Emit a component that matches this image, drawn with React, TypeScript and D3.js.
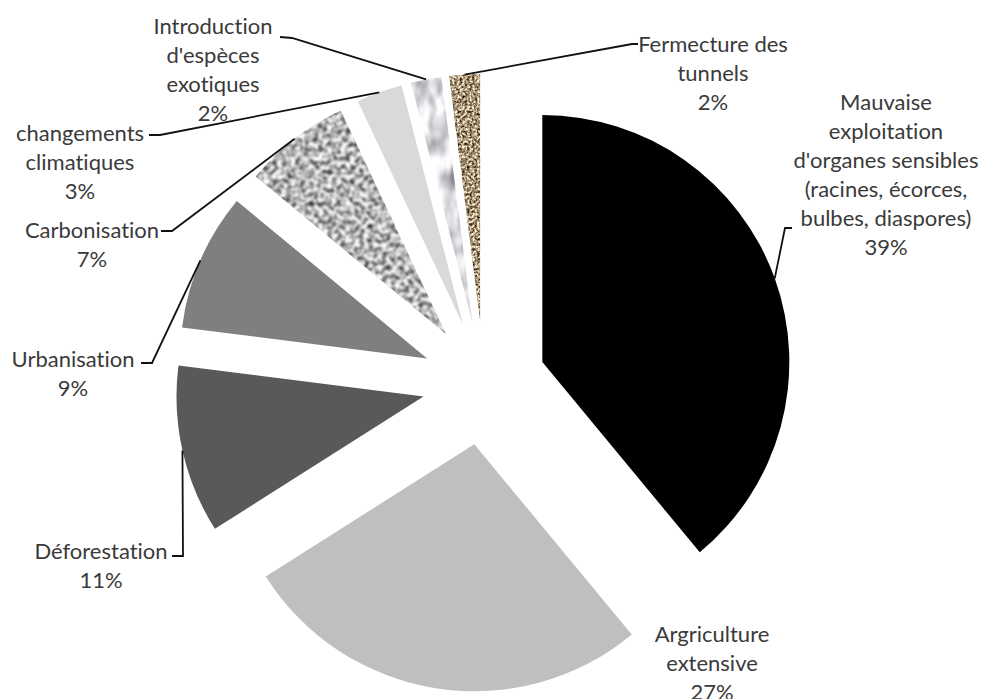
import React from "react";
import * as d3 from "d3";

// Threats to medicinal plant resources, share of citations (%)
const categoryLines: string[][] = [
  ["Mauvaise", "exploitation", "d'organes sensibles", "(racines, écorces,", "bulbes, diaspores)"],
  ["Argriculture", "extensive"],
  ["Déforestation"],
  ["Urbanisation"],
  ["Carbonisation"],
  ["changements", "climatiques"],
  ["Introduction", "d'espèces", "exotiques"],
  ["Fermecture des", "tunnels"],
];
const shares = [39, 27, 11, 9, 7, 3, 2, 2];

// Fill for each slice: plain colour or a textured filter
const sliceFills = ["#000000", "#bfbfbf", "#595959", "#7f7f7f", "url(#granite)", "#d9d9d9", "url(#marble)", "url(#sand)"];

// Label layout: text centre, first line centre, and the leader elbow / tick end
type LabelLayout = { x: number; y: number; elbow?: [number, number]; tick?: [number, number] };
const labelLayout: LabelLayout[] = [
  { x: 886, y: 101, elbow: [785, 228], tick: [792, 228] },
  { x: 712, y: 633 },
  { x: 101, y: 550, elbow: [183, 556], tick: [172, 556] },
  { x: 73, y: 358, elbow: [152, 363], tick: [141, 363] },
  { x: 92, y: 229, elbow: [172, 231], tick: [161, 231] },
  { x: 80, y: 132, elbow: [160, 135], tick: [149, 135] },
  { x: 213, y: 25, elbow: [292, 38], tick: [280, 37] },
  { x: 713, y: 43, elbow: [632, 44], tick: [638, 44] },
];

const W = 983;
const H = 699;
const CX = 484;
const CY = 383;
const RADIUS = 247;
const EXPLODE = 62;
const LINE_H = 29;

export default function App() {
  const pie = d3.pie<number>().sort(null).value((d) => d).startAngle(0).endAngle(2 * Math.PI);
  const arcs = pie(shares);
  const arc = d3.arc<d3.PieArcDatum<number>>().innerRadius(0).outerRadius(RADIUS);

  const dir = (a: number): [number, number] => [Math.sin(a), -Math.cos(a)];

  return (
    <svg width={W} height={H} viewBox={`0 0 ${W} ${H}`} style={{ position: "absolute", left: 0, top: 0, background: "#fff" }}>
      <defs>
        <filter id="granite" x="0" y="0" width="1" height="1" colorInterpolationFilters="sRGB">
          <feTurbulence type="fractalNoise" baseFrequency="0.22" numOctaves="3" seed="7" result="n" />
          <feColorMatrix
            in="n"
            type="matrix"
            values="1.9 0 0 0 -0.23  1.9 0 0 0 -0.23  1.9 0 0 0 -0.23  0 0 0 0 1"
            result="g"
          />
          <feGaussianBlur in="g" stdDeviation="0.9" result="gb" />
          <feComposite in="gb" in2="SourceGraphic" operator="in" />
        </filter>
        <filter id="marble" x="0" y="0" width="1" height="1" colorInterpolationFilters="sRGB">
          <feTurbulence type="fractalNoise" baseFrequency="0.07 0.03" numOctaves="3" seed="11" result="n" />
          <feColorMatrix
            in="n"
            type="matrix"
            values="1.1 0 0 0 0.32  1.1 0 0 0 0.32  1.1 0 0 0 0.34  0 0 0 0 1"
            result="g"
          />
          <feGaussianBlur in="g" stdDeviation="0.8" result="gb" />
          <feComposite in="gb" in2="SourceGraphic" operator="in" />
        </filter>
        <filter id="sand" x="0" y="0" width="1" height="1" colorInterpolationFilters="sRGB">
          <feTurbulence type="fractalNoise" baseFrequency="0.4" numOctaves="3" seed="5" result="n" />
          <feColorMatrix
            in="n"
            type="matrix"
            values="1.7 0 0 0 -0.2  1.7 0 0 0 -0.27  1.6 0 0 0 -0.33  0 0 0 0 1"
            result="g"
          />
          <feGaussianBlur in="g" stdDeviation="0.4" result="gb" />
          <feComposite in="gb" in2="SourceGraphic" operator="in" />
        </filter>
      </defs>

      <g>
        {arcs.map((a, i) => {
          const mid = (a.startAngle + a.endAngle) / 2;
          const [dx, dy] = dir(mid);
          const textured = sliceFills[i].startsWith("url");
          return (
            <path
              key={i}
              d={arc(a) ?? ""}
              transform={`translate(${CX + dx * EXPLODE},${CY + dy * EXPLODE})`}
              fill={textured ? "#aaa" : sliceFills[i]}
              filter={textured ? sliceFills[i] : undefined}
            />
          );
        })}
      </g>

      <g fill="none" stroke="#111" strokeWidth={1.8}>
        {arcs.map((a, i) => {
          const lay = labelLayout[i];
          if (!lay.elbow || !lay.tick) return null;
          const mid = (a.startAngle + a.endAngle) / 2;
          const [dx, dy] = dir(mid);
          const ox = CX + dx * (EXPLODE + RADIUS);
          const oy = CY + dy * (EXPLODE + RADIUS);
          const line = d3.line();
          return <path key={i} d={line([[ox, oy], lay.elbow, lay.tick]) ?? ""} />;
        })}
      </g>

      <g
        fontFamily="Lato, 'Open Sans', sans-serif"
        fontSize={22}
        fill="#3a3a3a"
        textAnchor="middle"
        style={{ fontVariantLigatures: "none" }}
      >
        {arcs.map((a, i) => {
          const lay = labelLayout[i];
          const lines = [...categoryLines[i], `${shares[i]}%`];
          return (
            <text key={i} x={lay.x} y={lay.y} dominantBaseline="central">
              {lines.map((t, j) => (
                <tspan key={j} x={lay.x} y={lay.y + j * LINE_H} dominantBaseline="central">
                  {t}
                </tspan>
              ))}
            </text>
          );
        })}
      </g>
    </svg>
  );
}
